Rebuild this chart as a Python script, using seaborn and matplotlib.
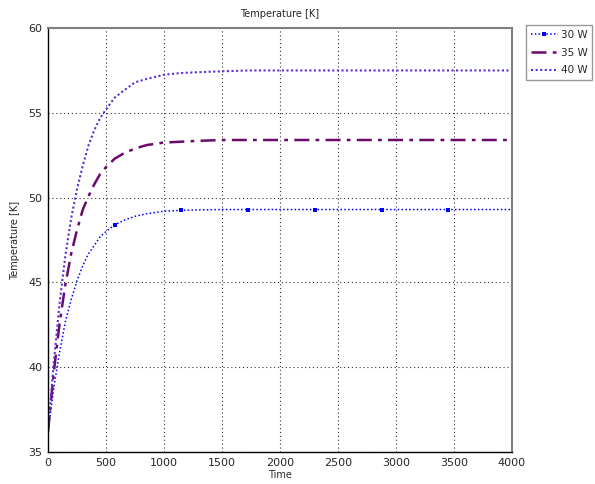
import matplotlib
matplotlib.use('Agg')
import matplotlib.pyplot as plt
import seaborn as sns
import pandas as pd

# data
time = [0, 50, 100, 150, 200, 250, 300, 350, 400, 450, 500, 575, 650, 750,
        850, 1000, 1150, 1300, 1500, 1725, 2000, 2300, 2875, 3450, 4000]
temp_30w = [36.2, 38.8, 40.9, 42.7, 44.0, 45.1, 46.0, 46.7, 47.2, 47.7, 48.0,
            48.4, 48.65, 48.9, 49.05, 49.2, 49.25, 49.28, 49.3, 49.3, 49.3,
            49.3, 49.3, 49.3, 49.3]
temp_35w = [36.2, 39.7, 42.6, 44.9, 46.7, 48.1, 49.3, 50.1, 50.8, 51.4, 51.8,
            52.3, 52.6, 52.9, 53.1, 53.25, 53.3, 53.35, 53.4, 53.4, 53.4,
            53.4, 53.4, 53.4, 53.4]
temp_40w = [36.2, 40.3, 43.8, 46.6, 48.8, 50.5, 51.9, 53.1, 54.0, 54.7, 55.2,
            55.9, 56.3, 56.8, 57.0, 57.25, 57.35, 57.4, 57.45, 57.5, 57.5,
            57.5, 57.5, 57.5, 57.5]
marker_idx = [11, 16, 19, 21, 22, 23]

df = pd.DataFrame({'Time': time, '30 W': temp_30w, '35 W': temp_35w, '40 W': temp_40w})

sns.set_style('white')
plt.rcParams['font.family'] = ['DejaVu Sans']

fig = plt.figure(figsize=(5.95, 4.84), dpi=100)
ax = fig.add_axes([0.0807, 0.0661, 0.7798, 0.8759])

sns.lineplot(data=df, x='Time', y='30 W', ax=ax, color='#0000ff', lw=1.1,
             linestyle=(0, (1, 1.5)), marker='s', markersize=3.5,
             markevery=marker_idx, markeredgewidth=0, label='30 W')
sns.lineplot(data=df, x='Time', y='35 W', ax=ax, color='#6b0a6b', lw=1.8,
             linestyle=(0, (6, 2.5, 1.5, 2.5)), label='35 W')
sns.lineplot(data=df, x='Time', y='40 W', ax=ax, color='#5a2ed0', lw=1.5,
             linestyle=(0, (1, 1.2)), label='40 W')

ax.set_xlim(0, 4000)
ax.set_ylim(35, 60)
ax.set_xticks(range(0, 4001, 500))
ax.set_yticks(range(35, 61, 5))
ax.grid(True, color='#333333', linestyle=(0, (1, 2.5)), linewidth=0.8)
ax.tick_params(labelsize=8, length=0, pad=4)

for side in ['left', 'bottom']:
    ax.spines[side].set_color('black')
    ax.spines[side].set_linewidth(1.0)
for side in ['top', 'right']:
    ax.spines[side].set_color('#808080')
    ax.spines[side].set_linewidth(1.5)

ax.set_title('Temperature [K]', fontsize=7, pad=8)
ax.set_xlabel('Time', fontsize=7, labelpad=2)
ax.set_ylabel('Temperature [K]', fontsize=7, labelpad=6)

handles, labels = ax.get_legend_handles_labels()
ax.legend_.remove()
leg = fig.legend(handles, labels, loc='upper left', bbox_to_anchor=(0.884, 0.948),
                 fontsize=7.5, frameon=True, fancybox=False, handlelength=2.6,
                 borderpad=0.45, labelspacing=0.75, handletextpad=0.3,
                 borderaxespad=0)
leg.get_frame().set_edgecolor('#808080')
leg.get_frame().set_linewidth(1.0)

fig.savefig('out.png', dpi=100, facecolor='white')
